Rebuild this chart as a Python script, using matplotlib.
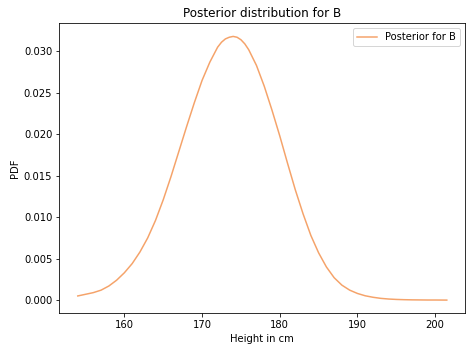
import matplotlib
matplotlib.use("Agg")
import matplotlib.pyplot as plt

# values
heights = [154, 155, 156, 157, 158, 159, 160, 161, 162, 163, 164, 165, 166,
           167, 168, 169, 170, 171, 172, 172.5, 173, 173.5, 174, 174.5, 175,
           175.5, 176, 177, 178, 179, 180, 181, 182, 183, 184, 185, 186, 187,
           188, 189, 190, 191, 192, 193, 194, 195, 196, 197, 198, 199, 200,
           201.5]
pdf = [0.0005, 0.0007, 0.0009, 0.0012, 0.0017, 0.0024, 0.0033, 0.0044,
       0.0058, 0.0075, 0.0096, 0.0121, 0.0149, 0.0179, 0.0209, 0.0238,
       0.0265, 0.0287, 0.0305, 0.0311, 0.0315, 0.0317, 0.0318, 0.0317,
       0.0314, 0.0309, 0.0302, 0.0283, 0.0258, 0.0229, 0.0198, 0.0165,
       0.0133, 0.0104, 0.0078, 0.0057, 0.0040, 0.0027, 0.0018, 0.0012,
       0.0008, 0.00052, 0.00034, 0.00021, 0.00013, 0.00008, 0.00005,
       0.00003, 0.00002, 0.00001, 0.00001, 0.0]

fig = plt.figure(figsize=(472 / 72, 352 / 72), dpi=72)
ax = fig.add_axes([0.1257, 0.110, 0.860, 0.824])

ax.plot(heights, pdf, color='#f5a36a', label='Posterior for B')
ax.set_title('Posterior distribution for B')
ax.set_xlabel('Height in cm')
ax.set_ylabel('PDF')
ax.set_xticks([160, 170, 180, 190, 200])
ax.legend(loc='upper right')

fig.savefig('out.png', dpi=72)
